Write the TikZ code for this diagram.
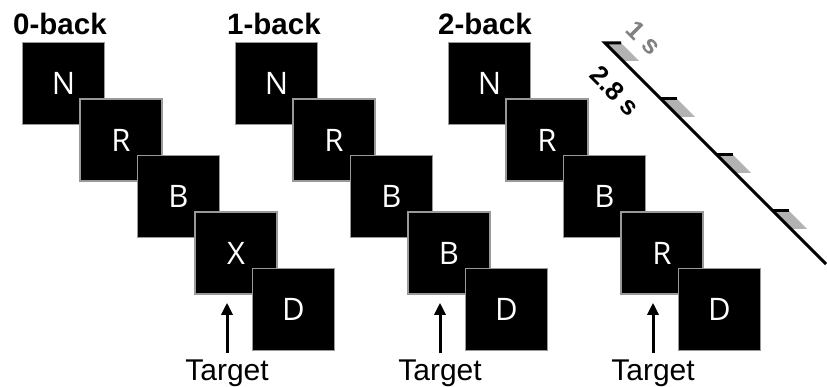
\documentclass[tikz,border=0pt]{standalone}
\usepackage{fontspec}
\setmainfont{Liberation Sans}
\newfontfamily\letterfont{Open Sans}
\usepackage{tikz}
\usetikzlibrary{arrows.meta}

\begin{document}
\begin{tikzpicture}[x=1pt,y=-1pt,>={Triangle[length=12pt,width=11pt]},
card/.style={draw=gray!80,line width=1.5pt,fill=black,minimum size=82pt,inner sep=0pt,text=white,font=\letterfont\fontsize{31}{31}\selectfont},
title/.style={anchor=base west,inner sep=0pt,font=\bfseries\fontsize{29.5}{29.5}\selectfont},
goal/.style={anchor=base,inner sep=0pt,font=\fontsize{30}{30}\selectfont},
pointer/.style={->,line width=3pt,shorten <=6pt,shorten >=8pt},
onset/.style={fill=gray!60},
axis/.style={line width=3pt}]
\useasboundingbox (0,0) rectangle (827,387);
% 0-back
\node[title] (lab0) at (13,35) {0-back};
\node[card] (z1) at (63.5,83.5) {N};
\node[card] (z2) at (121,140) {R};
\node[card] (z3) at (178.5,196.5) {B};
\node[card] (z4) at (236,253) {X};
\node[card] (z5) at (293.5,309.5) {D};
\node[goal] (tg0) at (227,380) {Target};
\draw[pointer] (tg0.north) -- (tg0.north |- z4.south);
% 1-back
\node[title] (lab1) at (227,35) {1-back};
\node[card] (o1) at (276.5,83.5) {N};
\node[card] (o2) at (334,140) {R};
\node[card] (o3) at (391.5,196.5) {B};
\node[card] (o4) at (449,253) {B};
\node[card] (o5) at (506.5,309.5) {D};
\node[goal] (tg1) at (440,380) {Target};
\draw[pointer] (tg1.north) -- (tg1.north |- o4.south);
% 2-back
\node[title] (lab2) at (438,35) {2-back};
\node[card] (t1) at (489.5,83.5) {N};
\node[card] (t2) at (547,140) {R};
\node[card] (t3) at (604.5,196.5) {B};
\node[card] (t4) at (662,253) {R};
\node[card] (t5) at (719.5,309.5) {D};
\node[goal] (tg2) at (653,380) {Target};
\draw[pointer] (tg2.north) -- (tg2.north |- t4.south);
% time line
\coordinate (tl0) at (605,43);
\coordinate (tl1) at (826,264);
\fill[onset](605,43)--++(16,0)--++(18,18)--++(-16,0)--cycle;
\fill[onset](661,99)--++(16,0)--++(18,18)--++(-16,0)--cycle;
\fill[onset](717,155)--++(16,0)--++(18,18)--++(-16,0)--cycle;
\fill[onset](773,211)--++(16,0)--++(18,18)--++(-16,0)--cycle;
\draw[axis](621,43)--(tl0)--(tl1);
\draw[axis](661,99)--++(16,0);
\draw[axis](717,155)--++(16,0);
\draw[axis](773,211)--++(16,0);
\node[rotate=-45,text=gray,inner sep=0pt,font=\bfseries\fontsize{26}{26}\selectfont] (dur) at (644,38) {1 s};
\node[rotate=-45,inner sep=0pt,font=\bfseries\fontsize{26}{26}\selectfont] (soa) at (615,91) {2.8 s};
\end{tikzpicture}
\end{document}
